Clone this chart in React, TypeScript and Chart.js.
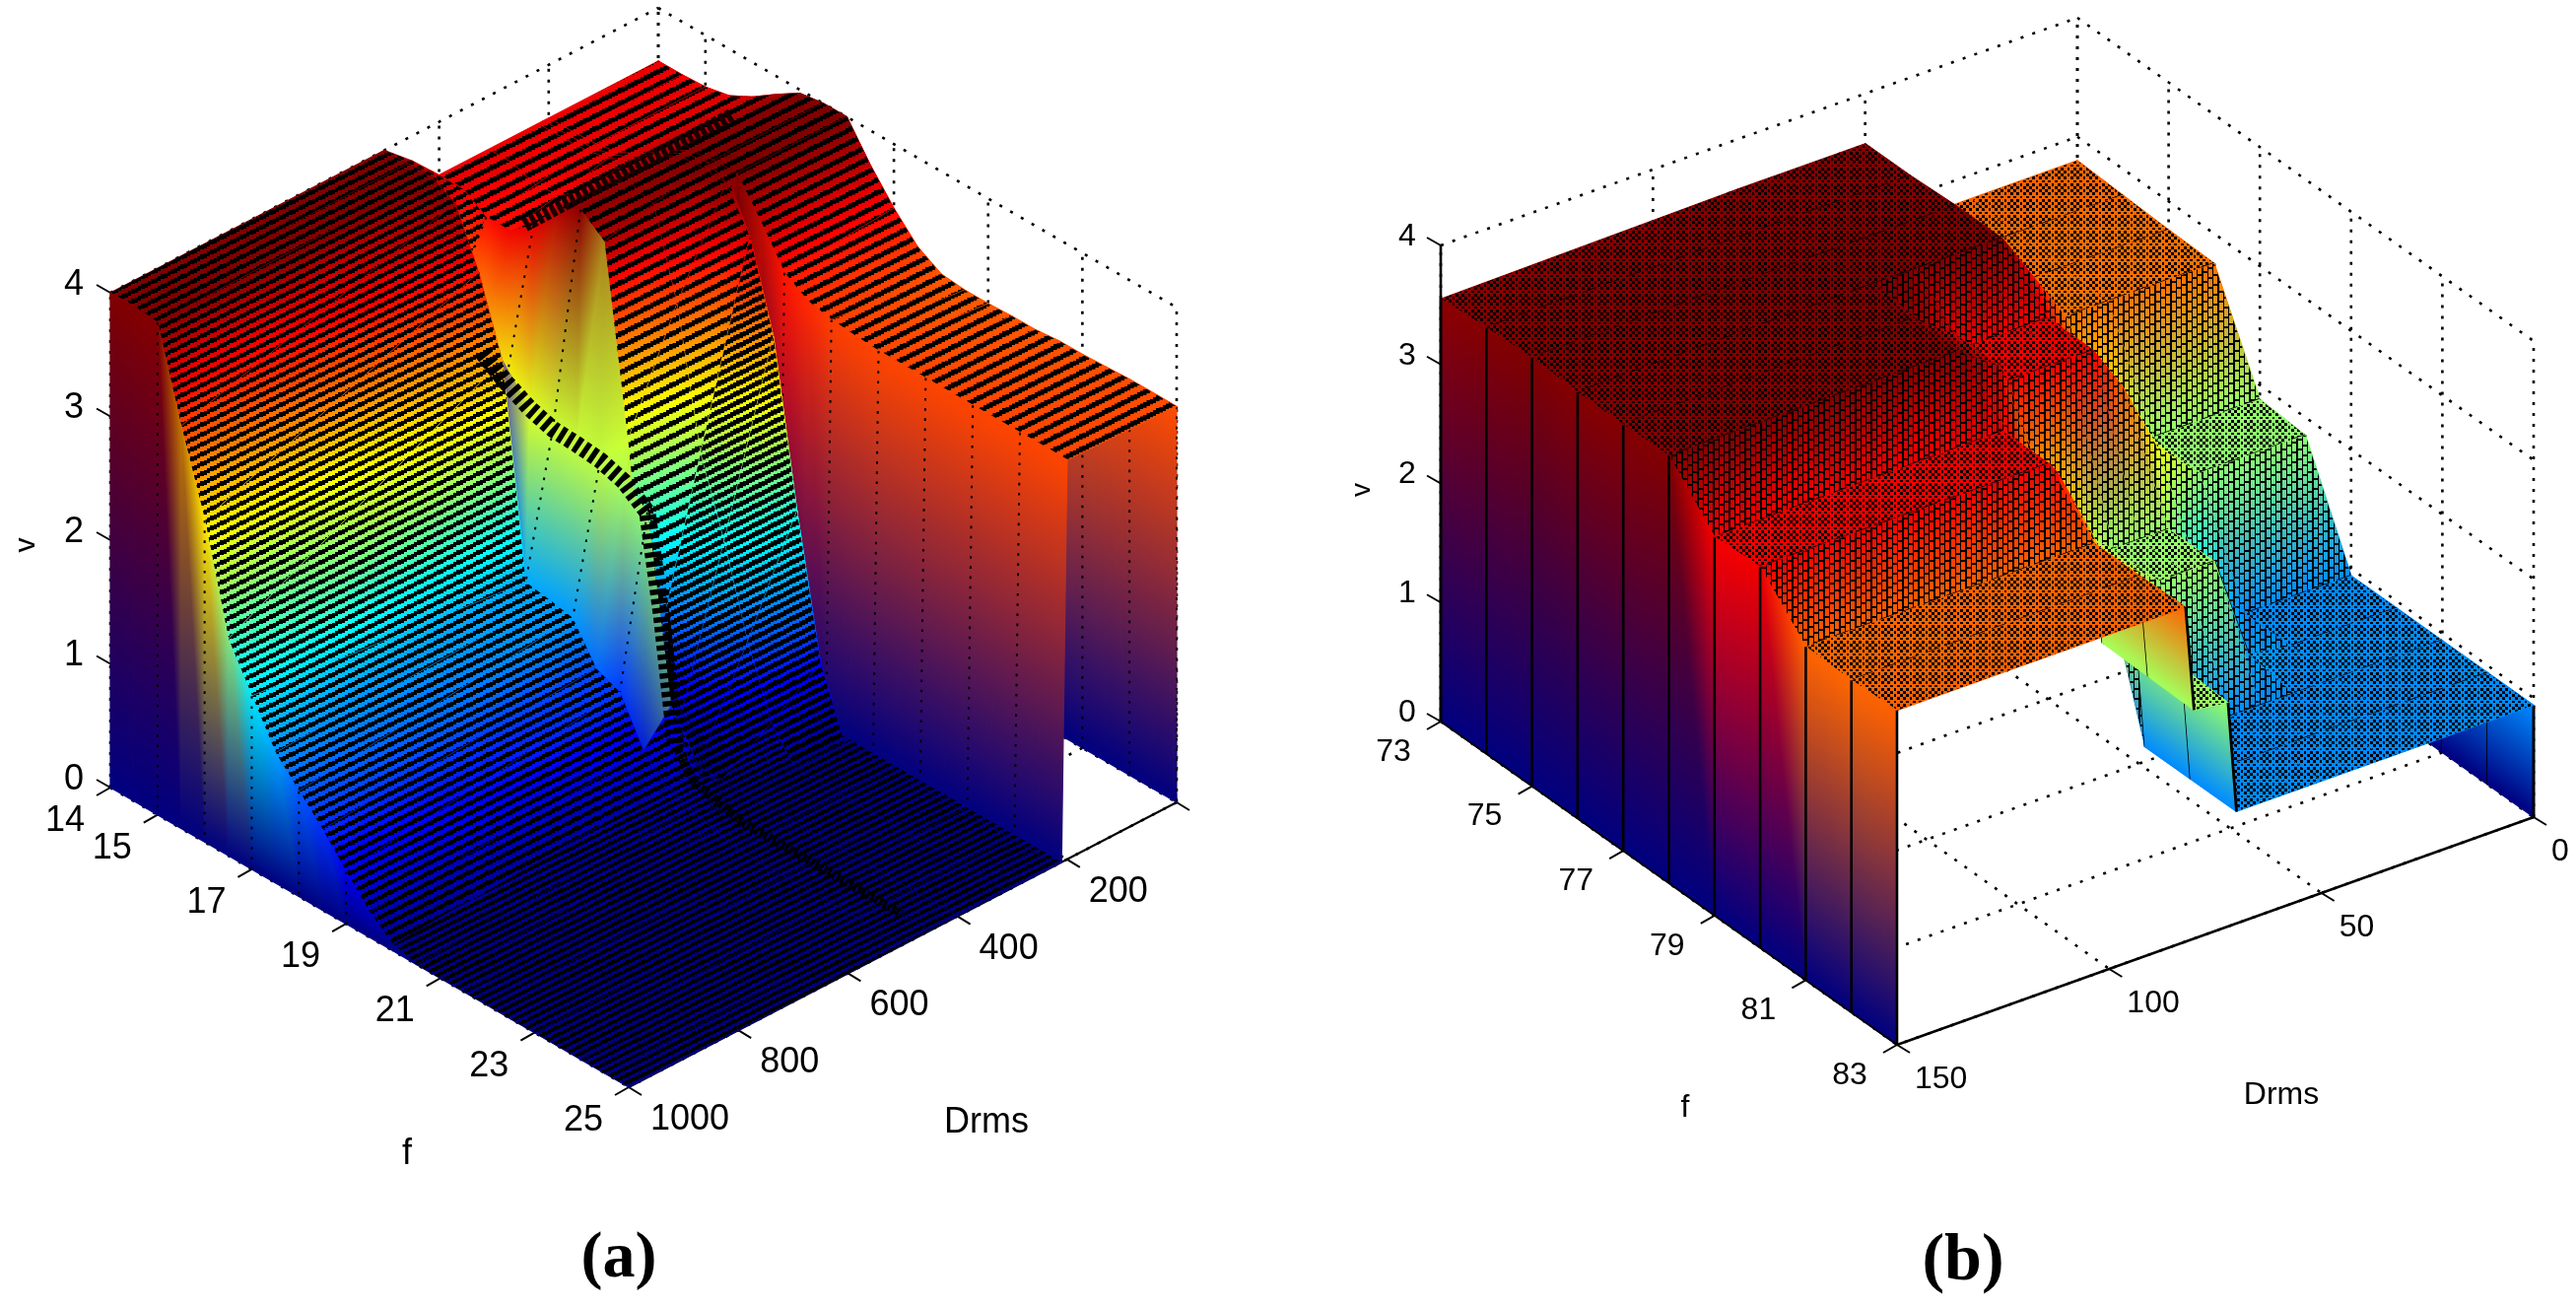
import React, { useEffect, useRef } from "react";
import { Chart, registerables } from "chart.js";

Chart.register(...registerables);

// ---------- panel (a) data: v(f, Drms) ----------
const fA = [14, 14.5, 15, 15.5, 16, 16.5, 17, 17.5, 18, 18.5, 19, 19.5, 20, 20.5, 21, 21.5, 22, 22.5, 23, 23.5, 24, 24.5, 25];
const dA = [0, 200, 210, 220, 310, 400, 450, 500, 1000];
const vD0 = [3.57, 3.57, 3.58, 3.62, 3.72, 3.85, 3.97, 4.0, 4.0, 3.72, 3.48, 3.28, 3.17, 3.15, 3.15, 3.16, 3.16, 3.18, 3.18, 3.19, 3.2, 3.2, 3.2];
const vD200 = [3.57, 3.57, 3.58, 3.62, 3.72, 3.85, 3.97, 4.0, 4.0, 3.72, 3.42, 3.3, 3.26, 3.24, 3.23, 3.23, 3.23, 3.23, 3.23, 3.23, 3.23, 3.23, 3.23];
const vD210 = [3.57, 3.57, 3.58, 3.62, 3.72, 3.85, 3.97, 4.0, 3.9, 0, 0, 0, 0, 0, 0, 0, 0, 0, 0, 0, 0, 0, 0];
const vD220 = [3.57, 3.57, 3.58, 3.62, 3.72, 3.85, 3.97, 3.98, 3.97, 3.65, 2.95, 1.65, 0.53, 0, 0, 0, 0, 0, 0, 0, 0, 0, 0];
const vD310 = [3.57, 3.57, 3.5, 3.53, 3.66, 3.85, 3.96, 3.9, 3.2, 2.1, 1.5, 0.8, 0.25, 0, 0, 0, 0, 0, 0, 0, 0, 0, 0];
const vD400 = [3.57, 3.57, 3.45, 3.45, 3.6, 3.85, 3.95, 3.8, 2.3, 0.5, 0.1, 0, 0, 0, 0, 0, 0, 0, 0, 0, 0, 0, 0];
const vD450 = [3.8, 3.8, 3.0, 2.7, 2.45, 2.35, 2.3, 2.28, 2.26, 2.2, 2.06, 0.6, 0.15, 0, 0, 0, 0, 0, 0, 0, 0, 0, 0];
const vD500 = [4, 4, 4, 3.9, 3.45, 2.85, 1.17, 1.14, 1.1, 0.8, 0.72, 0.35, 0.17, 0.1, 0.05, 0, 0, 0, 0, 0, 0, 0, 0];
const vD1000 = [4, 4, 3.98, 3.25, 2.6, 1.75, 1.4, 1.05, 0.85, 0.65, 0.42, 0.2, 0.05, 0, 0, 0, 0, 0, 0, 0, 0, 0, 0];
const foldF = [15.5, 16, 16.5, 17, 17.5, 18, 18.5, 19, 19.3, 19.6];
const foldV = [2.58, 2.45, 2.35, 2.29, 2.28, 2.26, 2.2, 2.06, 1.29, 0.3];
const foldLowF = [19.6, 20, 21, 22, 23, 24.4];
const foldLowV = [0.3, 0.1, 0, 0, 0, 0];
const ridgeD = [30, 410];
const ridgeF = [15.9, 15.9];
const ridgeV = [3.62, 3.6];
const fTicksA = [14, 15, 17, 19, 21, 23, 25];
const dTicksA = [0, 200, 400, 600, 800, 1000];
const vTicks = [0, 1, 2, 3, 4];

// ---------- panel (b) data ----------
const fB = [73, 74, 75, 76, 77, 78, 79, 80, 81, 82, 83];
const dB = [0, 25, 35, 43, 50, 56, 70, 72, 80, 82, 150];
const vF73 = [2.8, 2.8, 2.8, 3.2, 3.58, 3.58, 3.58, 3.58, 3.58, 3.58, 3.55];
const vF74 = [2.78, 2.78, 2.78, 3.2, 3.58, 3.58, 3.58, 3.58, 3.58, 3.58, 3.58];
const vF75 = [2.76, 2.76, 2.76, 3.2, 3.6, 3.6, 3.6, 3.6, 3.6, 3.6, 3.6];
const vF76 = [2.75, 2.75, 2.75, 3.2, 3.6, 3.6, 3.6, 3.6, 3.6, 3.6, 3.58];
const vF77 = [1.88, 1.88, 2.2, 2.8, 3.2, 3.2, 3.2, 3.35, 3.55, 3.6, 3.58];
const vF78 = [1.85, 1.85, 2.2, 2.8, 3.2, 3.2, 3.2, 3.35, 3.55, 3.6, 3.59];
const vF79 = [0.94, 0.94, 1.3, 1.88, 1.88, 1.88, 2.3, 2.5, 3.1, 3.2, 3.18];
const vF80 = [0.94, 0.94, 1.0, 1.88, 1.88, 1.88, 2.3, 2.5, 3.1, 3.2, 3.2];
const vF81 = [0.94, 0.94, 0.94, 0.94, 0.94, 0.94, 0.94, 1.9, 1.94, 2.8, 2.8];
const vF82 = [0.94, 0.94, 0.94, 0.94, 0.94, 0.94, 0.94, 1.9, 1.93, 2.8, 2.79];
const vF83 = [0.94, 0.94, 0.94, 0.94, 0.94, 0.94, 0.94, 1.88, 1.92, 2.81, 2.81];
const fTicksB = [73, 75, 77, 79, 81, 83];
const dTicksB = [0, 50, 100, 150];

const W = 2614;
const H = 1327;

const cfgA = { left: 0, width: 1307, origin: [112, 799], fVec: [526, 304], dVec: [556, -289], zUnit: 125.5, cMax: 4 };
const cfgB = { left: 1307, width: 1307, origin: [1462, 732], fVec: [463, 328], dVec: [646, -231], zUnit: 120.75, cMax: 3.6 };

type P = { x: number; y: number };

function jet(c: number): number[] {
  const cl = (x: number) => Math.max(0, Math.min(1, x));
  const t = cl(c);
  return [
    cl(Math.min(4 * t - 1.5, -4 * t + 4.5)) * 255,
    cl(Math.min(4 * t - 0.5, -4 * t + 3.5)) * 255,
    cl(Math.min(4 * t + 0.5, -4 * t + 2.5)) * 255,
  ];
}

const padCtx = () => document.createElement("canvas").getContext("2d") as CanvasRenderingContext2D;
const mix = (a: number[], b: number[], t: number) => [0, 1, 2].map((k) => a[k] + t * (b[k] - a[k]));

// a tile holding vertex-interpolated colours, mapped on a triangle with an affine pattern matrix
function triPattern(a: P, b: P, c: P, colour: (u: number, v: number) => number[], left: number) {
  const N = 60;
  const tile = document.createElement("canvas");
  tile.width = N;
  tile.height = N;
  const tc = tile.getContext("2d") as CanvasRenderingContext2D;
  const img = tc.createImageData(N, N);
  for (let j = 0; j < N; j++) {
    for (let i = 0; i < N; i++) {
      const u = ((i + 0.5) / N) * 3 - 1;
      const v = ((j + 0.5) / N) * 3 - 1;
      const k = (j * N + i) * 4;
      const col = colour(u, v);
      img.data[k] = col[0];
      img.data[k + 1] = col[1];
      img.data[k + 2] = col[2];
      img.data[k + 3] = 255;
    }
  }
  tc.putImageData(img, 0, 0);
  const pat = padCtx().createPattern(tile, "repeat") as CanvasPattern;
  const ux = b.x - a.x;
  const uy = b.y - a.y;
  const vx = c.x - a.x;
  const vy = c.y - a.y;
  pat.setTransform(new DOMMatrix([(ux * 3) / N, (uy * 3) / N, (vx * 3) / N, (vy * 3) / N, a.x - ux - vx - left, a.y - uy - vy]));
  return pat;
}

const hatchCache: Record<string, CanvasPattern> = {};

// diagonal band with the staircase edge of a low resolution raster
function stripePattern(pitch: number, ratio: number) {
  const key = `s${pitch}-${ratio}`;
  if (hatchCache[key]) return hatchCache[key];
  const scale = 4;
  const steps = Math.round(pitch / 1.67);
  const stepY = Math.round((pitch * scale) / steps);
  const h = stepY * steps;
  const w = stepY * 2 * steps;
  const tile = document.createElement("canvas");
  tile.width = w;
  tile.height = h;
  const c = tile.getContext("2d") as CanvasRenderingContext2D;
  c.fillStyle = "#000";
  const band = ratio * h;
  for (let s = 0; s < steps; s++) {
    const x = s * stepY * 2;
    const y = h - s * stepY;
    for (let k = -2; k < 2; k++) {
      c.fillRect(x, y + k * h, stepY * 2, band);
    }
  }
  const pat = padCtx().createPattern(tile, "repeat") as CanvasPattern;
  const m = pitch / h;
  pat.setTransform(new DOMMatrix([m, 0, 0, m, 0, 0]));
  hatchCache[key] = pat;
  return pat;
}

function checkerPattern() {
  if (hatchCache.checker) return hatchCache.checker;
  const tile = document.createElement("canvas");
  tile.width = 32;
  tile.height = 32;
  const c = tile.getContext("2d") as CanvasRenderingContext2D;
  c.fillStyle = "#000";
  c.fillRect(1, 1, 14, 14);
  c.fillRect(17, 17, 14, 14);
  const pat = padCtx().createPattern(tile, "repeat") as CanvasPattern;
  pat.setTransform(new DOMMatrix([0.2, 0, 0, 0.2, 0, 0]));
  hatchCache.checker = pat;
  return pat;
}

function staggerPattern() {
  if (hatchCache.stagger) return hatchCache.stagger;
  const tile = document.createElement("canvas");
  tile.width = 48;
  tile.height = 30;
  const c = tile.getContext("2d") as CanvasRenderingContext2D;
  c.fillStyle = "#000";
  c.fillRect(0, 0, 48, 30);
  c.globalCompositeOperation = "destination-out";
  for (let col = 0; col < 3; col++) {
    for (let k = -1; k < 3; k++) {
      c.fillRect(col * 16 + 2, k * 30 + 20 - col * 10, 12, 24);
    }
  }
  const pat = padCtx().createPattern(tile, "repeat") as CanvasPattern;
  pat.setTransform(new DOMMatrix([1 / 3, 0, 0, 1 / 3, 0, 0]));
  hatchCache.stagger = pat;
  return pat;
}

type Panel = {
  cfg: typeof cfgA;
  fs: number[];
  ds: number[];
  val: (i: number, j: number) => number;
  fTicks: number[];
  dTicks: number[];
};

function makeProject(p: Panel) {
  const { cfg, fs, ds } = p;
  const f0 = fs[0];
  const f1 = fs[fs.length - 1];
  const d1 = ds[ds.length - 1];
  return (f: number, d: number, v: number): P => ({
    x: cfg.origin[0] + (cfg.fVec[0] * (f - f0)) / (f1 - f0) + (cfg.dVec[0] * (d1 - d)) / d1,
    y: cfg.origin[1] + (cfg.fVec[1] * (f - f0)) / (f1 - f0) + (cfg.dVec[1] * (d1 - d)) / d1 - v * cfg.zUnit,
  });
}

const lineDs = (pts: P[], color: string, width: number, dash: number[] = []) => ({
  data: pts,
  borderColor: color,
  backgroundColor: "transparent",
  borderWidth: width,
  borderDash: dash.length ? dash : [100000, 1],
  fill: false,
  pointRadius: 0,
  tension: 0,
  borderCapStyle: "butt",
});

const polyDs = (pts: P[], fillStyle: any, border: any, bw: number) => ({
  data: [...pts, pts[0]],
  borderColor: border,
  backgroundColor: fillStyle,
  borderWidth: bw,
  borderDash: [100000, 1],
  fill: "shape",
  pointRadius: 0,
  tension: 0,
});

const triArea = (a: P, b: P, c: P) => Math.abs((b.x - a.x) * (c.y - a.y) - (b.y - a.y) * (c.x - a.x));

// linear RGB between the vertex colours (curtains and steps)
function rgbQuad(out: any[], q: P[], cs: number[][], left: number) {
  const tri = (a: number, b: number, c: number) => {
    if (triArea(q[a], q[b], q[c]) < 1) return;
    const ca = cs[a];
    const cb = cs[b];
    const cc = cs[c];
    const fn = (u: number, v: number) => [0, 1, 2].map((k) => Math.max(0, Math.min(255, ca[k] + u * (cb[k] - ca[k]) + v * (cc[k] - ca[k]))));
    const pat = triPattern(q[a], q[b], q[c], fn, left);
    out.push(polyDs([q[a], q[b], q[c]], pat, pat, 1.2));
  };
  tri(0, 1, 2);
  tri(2, 3, 0);
}

// colour map applied to the height inside the cell
function jetQuad(out: any[], q: P[], vs: number[], cMax: number, left: number) {
  const tri = (a: number, b: number, c: number) => {
    if (triArea(q[a], q[b], q[c]) < 1) return;
    const fn = (u: number, v: number) => jet((vs[a] + u * (vs[b] - vs[a]) + v * (vs[c] - vs[a])) / cMax);
    const pat = triPattern(q[a], q[b], q[c], fn, left);
    out.push(polyDs([q[a], q[b], q[c]], pat, pat, 1.2));
  };
  tri(0, 1, 2);
  tri(2, 3, 0);
}

const DOT = "#000";

function backdrop(p: Panel, proj: ReturnType<typeof makeProject>, out: any[]) {
  const { fs, ds, fTicks, dTicks } = p;
  const f0 = fs[0];
  const f1 = fs[fs.length - 1];
  const d0 = ds[0];
  const d1 = ds[ds.length - 1];
  const dash = [3, 9.5];
  for (const v of vTicks) {
    out.push(lineDs([proj(f0, d1, v), proj(f0, d0, v)], DOT, 2.6, dash));
    out.push(lineDs([proj(f0, d0, v), proj(f1, d0, v)], DOT, 2.6, dash));
  }
  for (const d of dTicks) {
    out.push(lineDs([proj(f0, d, 0), proj(f0, d, 4)], DOT, 2.6, [3, 8]));
    out.push(lineDs([proj(f0, d, 0), proj(f1, d, 0)], DOT, 2.6, dash));
  }
  for (const f of fTicks) {
    out.push(lineDs([proj(f, d0, 0), proj(f, d0, 4)], DOT, 2.6, [3, 8]));
    out.push(lineDs([proj(f, d0, 0), proj(f, d1, 0)], DOT, 2.6, dash));
  }
}

function axes(p: Panel, proj: ReturnType<typeof makeProject>, out: any[], strong: boolean) {
  const { fs, ds, fTicks, dTicks } = p;
  const f1 = fs[fs.length - 1];
  const d1 = ds[ds.length - 1];
  const w = 2;
  out.push(lineDs([proj(f1, d1, 0), proj(f1, 0, 0)], "#000", strong ? 2.6 : 2));
  for (const f of fTicks) {
    const a = proj(f, d1, 0);
    out.push(lineDs([a, { x: a.x - 14, y: a.y + 8 }], "#000", w));
  }
  for (const d of dTicks) {
    const a = proj(f1, d, 0);
    out.push(lineDs([a, { x: a.x + 13, y: a.y + 8 }], "#000", w));
  }
  for (const v of vTicks) {
    const a = proj(fs[0], d1, v);
    out.push(lineDs([a, { x: a.x - 14, y: a.y - 8 }], "#000", w));
  }
}

function buildA() {
  const cols = [vD0, vD200, vD210, vD220, vD310, vD400, vD450, vD500, vD1000];
  const panel: Panel = { cfg: cfgA, fs: fA, ds: dA, val: (i, j) => cols[j][i], fTicks: fTicksA, dTicks: dTicksA };
  const proj = makeProject(panel);
  const out: any[] = [];
  const M = cfgA.cMax;
  const L = cfgA.left;
  // on the curtains and steps the colour is blended in RGB between whole f rows
  const rowV = (fi: number, j: number) => cols[j][Math.round((fi - 14) * 2)];
  const colourAt = (f: number, j: number) => {
    const lo = Math.min(24, Math.floor(f));
    return mix(jet(rowV(lo, j) / M), jet(rowV(lo + 1, j) / M), f - lo);
  };
  const BASE = jet(0);
  backdrop(panel, proj, out);
  axes(panel, proj, out, false);
  const dotted = [2.6, 7.6];
  const isInt = (f: number) => Math.abs(f - Math.round(f)) < 1e-6;
  // far curtain
  for (let i = 0; i < fA.length - 1; i++) {
    const a = cols[0][i];
    const b = cols[0][i + 1];
    rgbQuad(out, [proj(fA[i], 0, a), proj(fA[i + 1], 0, b), proj(fA[i + 1], 0, 0), proj(fA[i], 0, 0)], [colourAt(fA[i], 0), colourAt(fA[i + 1], 0), BASE, BASE], L);
  }
  for (let i = 0; i < fA.length; i++) {
    if (isInt(fA[i]) && fA[i] > 14) out.push(lineDs([proj(fA[i], 0, cols[0][i]), proj(fA[i], 0, 0)], "#000", 2, dotted));
  }
  const wallGap = new Set([1, 5, 6]);
  for (let i = 0; i < fA.length - 1; i++) {
    for (let j = 0; j < dA.length - 1; j++) {
      const q = [
        proj(fA[i], dA[j], cols[j][i]),
        proj(fA[i + 1], dA[j], cols[j][i + 1]),
        proj(fA[i + 1], dA[j + 1], cols[j + 1][i + 1]),
        proj(fA[i], dA[j + 1], cols[j + 1][i]),
      ];
      const vs = [cols[j][i], cols[j][i + 1], cols[j + 1][i + 1], cols[j + 1][i]];
      const dvD = Math.min(Math.abs(vs[0] - vs[3]), Math.abs(vs[1] - vs[2]));
      const isWall = wallGap.has(j) && (dvD > 0.25 || Math.max(Math.abs(vs[0] - vs[3]), Math.abs(vs[1] - vs[2])) > 1);
      if (isWall) {
        rgbQuad(out, q, [colourAt(fA[i], j), colourAt(fA[i + 1], j), colourAt(fA[i + 1], j + 1), colourAt(fA[i], j + 1)], L);
        if (isInt(fA[i]) && Math.abs(vs[0] - vs[3]) > 0.2) out.push(lineDs([q[0], q[3]], "#000", 2, dotted));
      } else {
        jetQuad(out, q, vs, M, L);
        const avg = (vs[0] + vs[1] + vs[2] + vs[3]) / 4;
        let pitch = 10;
        let ratio = 0.5;
        if (avg < 0.12) {
          pitch = 7.6;
          ratio = 0.56;
        } else if (dA[j + 1] <= 400 && (fA[i] <= 18 || j === 0)) {
          pitch = 13;
          ratio = 0.44;
        } else if (j === 3 || j === 4) {
          pitch = 9.5;
          ratio = 0.6;
        }
        out.push(polyDs(q, stripePattern(pitch, ratio), "transparent", 0));
      }
    }
  }
  // dense folds of the mesh
  out.push(lineDs(ridgeD.map((d, k) => proj(ridgeF[k], d, ridgeV[k])), "#1a0000", 14, [5, 2.5]));
  out.push(lineDs(foldF.map((f, k) => proj(f, 450, foldV[k])), "#000", 17, [5.5, 4]));
  out.push(lineDs(foldLowF.map((f, k) => proj(f, 450, foldLowV[k])), "#000", 9, [3, 2]));
  // near curtain
  const last = dA.length - 1;
  for (let i = 0; i < fA.length - 1; i++) {
    const a = cols[last][i];
    const b = cols[last][i + 1];
    rgbQuad(out, [proj(fA[i], 1000, a), proj(fA[i + 1], 1000, b), proj(fA[i + 1], 1000, 0), proj(fA[i], 1000, 0)], [colourAt(fA[i], last), colourAt(fA[i + 1], last), BASE, BASE], L);
  }
  for (let i = 2; i < fA.length; i++) {
    if (isInt(fA[i]) && cols[last][i] > 0.2) out.push(lineDs([proj(fA[i], 1000, cols[last][i]), proj(fA[i], 1000, 0)], "#000", 2, dotted));
  }
  return { out, proj, panel };
}

function buildB() {
  const rows = [vF73, vF74, vF75, vF76, vF77, vF78, vF79, vF80, vF81, vF82, vF83];
  const panel: Panel = { cfg: cfgB, fs: fB, ds: dB, val: (i, j) => rows[i][j], fTicks: fTicksB, dTicks: dTicksB };
  const proj = makeProject(panel);
  const out: any[] = [];
  const M = cfgB.cMax;
  const L = cfgB.left;
  const c = (v: number) => jet(v / M);
  backdrop(panel, proj, out);
  axes(panel, proj, out, true);
  for (let i = 0; i < fB.length - 1; i++) {
    const a = rows[i][0];
    const b = rows[i + 1][0];
    rgbQuad(out, [proj(fB[i], 0, a), proj(fB[i + 1], 0, b), proj(fB[i + 1], 0, 0), proj(fB[i], 0, 0)], [c(a), c(b), c(0), c(0)], L);
    out.push(lineDs([proj(fB[i + 1], 0, b), proj(fB[i + 1], 0, 0)], "#000", 3));
  }
  for (let i = 0; i < fB.length - 1; i++) {
    for (let j = 0; j < dB.length - 1; j++) {
      const q = [
        proj(fB[i], dB[j], rows[i][j]),
        proj(fB[i + 1], dB[j], rows[i + 1][j]),
        proj(fB[i + 1], dB[j + 1], rows[i + 1][j + 1]),
        proj(fB[i], dB[j + 1], rows[i][j + 1]),
      ];
      const vs = [rows[i][j], rows[i + 1][j], rows[i + 1][j + 1], rows[i][j + 1]];
      const dvD = Math.min(Math.abs(vs[0] - vs[3]), Math.abs(vs[1] - vs[2]));
      const dvF = Math.max(Math.abs(vs[0] - vs[1]), Math.abs(vs[2] - vs[3]));
      rgbQuad(out, q, vs.map(c), L);
      if (dvD <= 0.7) {
        out.push(polyDs(q, dvF > 0.1 ? staggerPattern() : checkerPattern(), "transparent", 0));
      }
    }
    // mesh line of the next row
    for (let j = 0; j < dB.length - 1; j++) {
      const a = rows[i + 1][j];
      const b = rows[i + 1][j + 1];
      if (i + 1 === fB.length - 1 && Math.abs(a - b) < 0.05) continue;
      const seg = [proj(fB[i + 1], dB[j], a), proj(fB[i + 1], dB[j + 1], b)];
      if (Math.abs(a - b) < 0.05) out.push(lineDs(seg, "#000", 2.8, [15, 9]));
      else if (Math.abs(a - b) > 0.7) out.push(lineDs(seg, "#000", 2.8));
    }
  }
  const last = dB.length - 1;
  for (let i = 0; i < fB.length - 1; i++) {
    const a = rows[i][last];
    const b = rows[i + 1][last];
    rgbQuad(out, [proj(fB[i], 150, a), proj(fB[i + 1], 150, b), proj(fB[i + 1], 150, 0), proj(fB[i], 150, 0)], [c(a), c(b), c(0), c(0)], L);
  }
  for (let i = 0; i < fB.length; i++) {
    out.push(lineDs([proj(fB[i], 150, rows[i][last]), proj(fB[i], 150, 0)], "#000", 2.6));
  }
  out.push(lineDs([proj(73, 150, 0), proj(73, 150, 4)], "#000", 2.6));
  out.push(lineDs([proj(73, 150, 0), proj(83, 150, 0)], "#000", 2));
  return { out, proj, panel };
}

type Lab = { text: string; x: number; y: number; font: string; sx?: number; rot?: number; align?: CanvasTextAlign };

function labelsA(proj: ReturnType<typeof makeProject>): Lab[] {
  const font = '36px "Liberation Sans"';
  const out: Lab[] = [];
  for (const v of vTicks) out.push({ text: String(v), x: 75, y: proj(14, 1000, v).y - 8, font, align: "center" });
  for (const f of fTicksA) {
    const a = proj(f, 1000, 0);
    out.push({ text: String(f), x: a.x - 46, y: a.y + 34, font, align: "center" });
  }
  for (const d of dTicksA) {
    if (d === 0) continue;
    const a = proj(25, d, 0);
    out.push({ text: String(d), x: a.x + 22, y: a.y + 33, font, align: "left" });
  }
  out.push({ text: "v", x: 27, y: 553, font: '30px "Liberation Sans"', rot: -Math.PI / 2, align: "center" });
  out.push({ text: "f", x: 413, y: 1171, font, align: "center" });
  out.push({ text: "Drms", x: 1001, y: 1139, font, align: "center" });
  out.push({ text: "(a)", x: 628, y: 1278, font: 'bold 66px "Liberation Serif"', align: "center" });
  return out;
}

function labelsB(proj: ReturnType<typeof makeProject>): Lab[] {
  const font = '32px "Liberation Sans"';
  const out: Lab[] = [];
  for (const v of vTicks) out.push({ text: String(v), x: 1428, y: proj(73, 150, v).y - 9, font, align: "center" });
  for (const f of fTicksB) {
    const a = proj(f, 150, 0);
    out.push({ text: String(f), x: a.x - 48, y: a.y + 31, font, align: "center" });
  }
  for (const d of dTicksB) {
    const a = proj(83, d, 0);
    out.push({ text: String(d), x: a.x + 18, y: a.y + 35, font, align: "left" });
  }
  out.push({ text: "v", x: 1382, y: 497, font: '28px "Liberation Sans"', rot: -Math.PI / 2, align: "center" });
  out.push({ text: "f", x: 1710, y: 1124, font, align: "center" });
  out.push({ text: "Drms", x: 2315, y: 1111, font, align: "center" });
  out.push({ text: "(b)", x: 1992, y: 1280, font: 'bold 68px "Liberation Serif"', align: "center" });
  return out;
}

function makeChart(canvas: HTMLCanvasElement, cfg: typeof cfgA, datasets: any[], labels: Lab[]) {
  const textPlugin = {
    id: "panelText",
    afterDraw(chart: any) {
      const ctx = chart.ctx;
      for (const l of labels) {
        ctx.save();
        ctx.translate(l.x - cfg.left, l.y);
        if (l.rot) ctx.rotate(l.rot);
        ctx.scale(l.sx ?? 1, 1);
        ctx.font = l.font;
        ctx.fillStyle = "#000";
        ctx.textAlign = l.align ?? "center";
        ctx.textBaseline = "middle";
        ctx.fillText(l.text, 0, 0);
        ctx.restore();
      }
    },
  };
  return new Chart(canvas, {
    type: "line",
    data: { datasets: [...datasets].reverse() },
    options: {
      responsive: false,
      animation: false,
      events: [],
      layout: { padding: 0 },
      plugins: { legend: { display: false }, tooltip: { enabled: false }, title: { display: false } },
      elements: { line: { borderJoinStyle: "round" } },
      scales: {
        x: { type: "linear", display: false, min: cfg.left, max: cfg.left + cfg.width },
        y: { type: "linear", display: false, min: 0, max: H, reverse: true },
      },
    },
    plugins: [textPlugin],
  } as any);
}

export default function App() {
  const refA = useRef<HTMLCanvasElement>(null);
  const refB = useRef<HTMLCanvasElement>(null);
  useEffect(() => {
    const a = buildA();
    const b = buildB();
    const ca = makeChart(refA.current as HTMLCanvasElement, cfgA, a.out, labelsA(a.proj));
    const cb = makeChart(refB.current as HTMLCanvasElement, cfgB, b.out, labelsB(b.proj));
    return () => {
      ca.destroy();
      cb.destroy();
    };
  }, []);
  return (
    <div style={{ position: "absolute", left: 0, top: 0, width: W, height: H, background: "#fff", overflow: "hidden" }}>
      <canvas ref={refA} width={cfgA.width} height={H} style={{ position: "absolute", left: 0, top: 0 }} />
      <canvas ref={refB} width={cfgB.width} height={H} style={{ position: "absolute", left: cfgB.left, top: 0 }} />
    </div>
  );
}
